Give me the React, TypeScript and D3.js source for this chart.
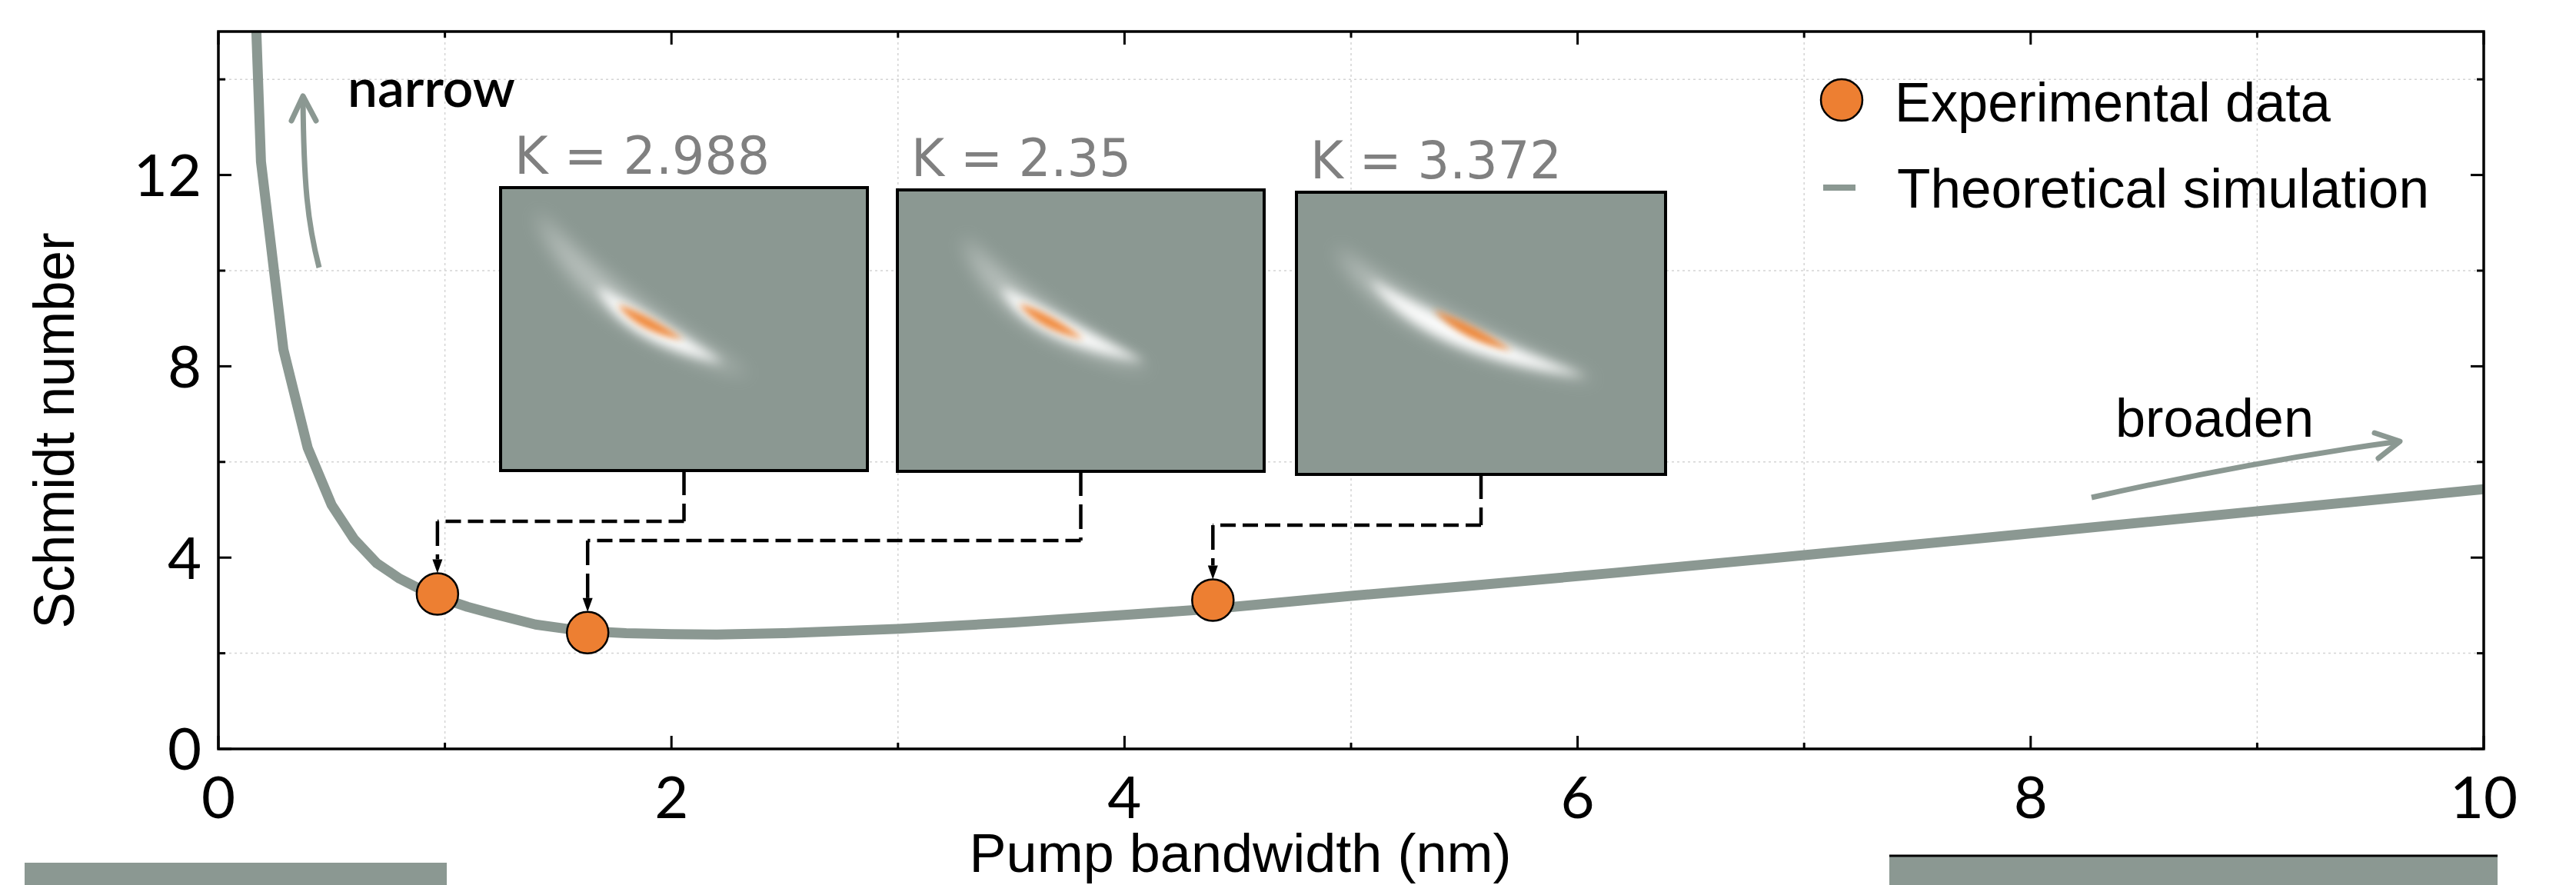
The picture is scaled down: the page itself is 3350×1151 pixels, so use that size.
import React from 'react';
import * as d3 from 'd3';

// ---------- data ----------
const xMajorTicks = [0, 2, 4, 6, 8, 10];
const xMinorTicks = [1, 3, 5, 7, 9];
const yMajorTicks = [0, 4, 8, 12];
const yMinorTicks = [2, 6, 10, 14];

const simBandwidth = [0.1, 0.188, 0.287, 0.394, 0.5, 0.6, 0.7, 0.8, 0.9, 1.0, 1.1, 1.2, 1.4, 1.6, 1.8, 2.0, 2.2, 2.5, 3.0, 3.5, 4.0, 4.39, 5.0, 5.5, 6.16, 7.0, 7.86, 9.0, 10.0];
const simSchmidt = [24.0, 12.28, 8.35, 6.3, 5.1, 4.38, 3.88, 3.56, 3.32, 3.13, 2.97, 2.84, 2.6, 2.47, 2.42, 2.4, 2.39, 2.42, 2.51, 2.64, 2.8, 2.93, 3.2, 3.4, 3.68, 4.05, 4.44, 4.97, 5.43];

const expBandwidth = [0.967, 1.63, 4.39];
const expSchmidt = [3.24, 2.43, 3.11];
const kLabels = ['K = 2.988', 'K = 2.35', 'K = 3.372'];

const legendLabels = ['Experimental data', 'Theoretical simulation'];

// ---------- layout ----------
const W = 3350;
const H = 1151;
const M = { left: 284, right: 3230, top: 41, bottom: 974 };
const GRAY = '#8b9892';
const ORANGE = '#ed7f32';

const insetBoxes = [
  { x: 651, y: 244, w: 477, h: 368 },
  { x: 1167, y: 247, w: 477, h: 366 },
  { x: 1686, y: 250, w: 480, h: 367 },
];
const connectorLevels = [678, 703, 683];

// blob shapes inside each inset (local px): [start, control, end]
type P = [number, number];
const blobs: { faint: [P, P, P]; white: [P, P, P]; core: [P, P, P] }[] = [
  { faint: [[45, 30], [120, 160], [326, 245]], white: [[125, 128], [170, 180], [290, 228]], core: [[152, 152], [185, 176], [238, 198]] },
  { faint: [[85, 60], [140, 165], [330, 235]], white: [[135, 126], [172, 172], [322, 224]], core: [[158, 148], [190, 170], [242, 194]] },
  { faint: [[50, 70], [130, 175], [392, 246]], white: [[95, 113], [175, 190], [378, 240]], core: [[178, 153], [222, 182], [280, 206]] },
];

function lens(s: P, c: P, e: P, t: number) {
  const dx = e[0] - s[0];
  const dy = e[1] - s[1];
  const L = Math.hypot(dx, dy);
  const nx = -dy / L;
  const ny = dx / L;
  const c1: P = [c[0] + nx * 2 * t, c[1] + ny * 2 * t];
  const c2: P = [c[0] - nx * 2 * t, c[1] - ny * 2 * t];
  return `M${s[0]},${s[1]} Q${c1[0]},${c1[1]} ${e[0]},${e[1]} Q${c2[0]},${c2[1]} ${s[0]},${s[1]} Z`;
}

export default function App() {
  const x = d3.scaleLinear().domain([0, 10]).range([M.left, M.right]);
  const y = d3.scaleLinear().domain([0, 15]).range([M.bottom, M.top]);

  const simData = simBandwidth.map((b, i) => [b, simSchmidt[i]] as [number, number]);
  const line = d3
    .line<[number, number]>()
    .x((d) => x(d[0]))
    .y((d) => y(d[1]))
    .curve(d3.curveLinear);

  const R = 27;
  const tickFont = { fontFamily: 'Lato, "Open Sans", sans-serif', fontWeight: 400, fontSize: 76 } as const;
  const narrowFont = '"Liberation Sans Narrow", "Liberation Sans", Arial, sans-serif';

  return (
    <svg
      width={W}
      height={H}
      viewBox={`0 0 ${W} ${H}`}
      style={{ position: 'absolute', left: 0, top: 0, background: '#fff' }}
    >
      <defs>
        <clipPath id="plotClip">
          <rect x={M.left} y={M.top} width={M.right - M.left} height={M.bottom - M.top} />
        </clipPath>
        {insetBoxes.map((b, i) => (
          <clipPath id={`insetClip${i}`} key={i}>
            <rect x={0} y={0} width={b.w} height={b.h} />
          </clipPath>
        ))}
        <filter id="blurFaint" x="-50%" y="-50%" width="200%" height="200%">
          <feGaussianBlur stdDeviation={12} />
        </filter>
        <filter id="blurWhite" x="-50%" y="-50%" width="200%" height="200%">
          <feGaussianBlur stdDeviation={7} />
        </filter>
        <filter id="blurCore" x="-50%" y="-50%" width="200%" height="200%">
          <feGaussianBlur stdDeviation={4} />
        </filter>
      </defs>

      {/* grid */}
      {xMinorTicks.map((t) => (
        <line key={'gx' + t} x1={x(t)} x2={x(t)} y1={M.top} y2={M.bottom} stroke="#d4d4d4" strokeWidth={1.5} strokeDasharray="3 4" />
      ))}
      {yMinorTicks.map((t) => (
        <line key={'gy' + t} x1={M.left} x2={M.right} y1={y(t)} y2={y(t)} stroke="#d4d4d4" strokeWidth={1.5} strokeDasharray="3 4" />
      ))}

      {/* theoretical curve */}
      <g clipPath="url(#plotClip)">
        <path d={line(simData) || ''} fill="none" stroke={GRAY} strokeWidth={13} strokeLinejoin="round" />
      </g>

      {/* narrow / broaden arrows */}
      <g fill="none" stroke={GRAY} strokeWidth={7} strokeLinecap="round" strokeLinejoin="round">
        <path d="M415,348 C400,290 395,240 394,128" strokeLinecap="butt" />
        <path d="M379,157 L394,125 L411,157" />
        <path d="M2720,647 Q2930,600 3120,574" strokeLinecap="butt" />
        <path d="M3088,563 L3121,574 L3093,596" />
      </g>
      <text x={452} y={139} fontFamily='Lato, "DejaVu Sans", sans-serif' fontWeight={600} fontSize={70} textLength={218} lengthAdjust="spacingAndGlyphs">
        narrow
      </text>
      <text x={2751} y={568} fontFamily={narrowFont} fontSize={70} textLength={258} lengthAdjust="spacingAndGlyphs">
        broaden
      </text>

      {/* insets */}
      {insetBoxes.map((b, i) => (
        <g key={'in' + i}>
          <g transform={`translate(${b.x},${b.y})`}>
            <g clipPath={`url(#insetClip${i})`}>
              <rect x={0} y={0} width={b.w} height={b.h} fill={GRAY} />
              <path d={lens(blobs[i].faint[0], blobs[i].faint[1], blobs[i].faint[2], 18)} fill="#ffffff" opacity={0.4} filter="url(#blurFaint)" />
              <path d={lens(blobs[i].white[0], blobs[i].white[1], blobs[i].white[2], 13)} fill="#ffffff" opacity={0.95} filter="url(#blurWhite)" />
              <path d={lens(blobs[i].core[0], blobs[i].core[1], blobs[i].core[2], 7)} fill="#f07f2c" opacity={0.9} filter="url(#blurCore)" />
            </g>
            <rect x={0} y={0} width={b.w} height={b.h} fill="none" stroke="#000" strokeWidth={4} />
          </g>
          <text x={b.x + 18} y={b.y - 18} fill="#808080" fontFamily='"DejaVu Sans", sans-serif' fontSize={68} textLength={[332, 286, 327][i]} lengthAdjust="spacingAndGlyphs">
            {kLabels[i]}
          </text>
        </g>
      ))}

      {/* connectors */}
      {insetBoxes.map((b, i) => {
        const cx = b.x + b.w / 2;
        const lvl = connectorLevels[i];
        const mx = x(expBandwidth[i]);
        const tipY = y(expSchmidt[i]) - R;
        const headLen = 18;
        return (
          <g key={'cn' + i} stroke="#000" strokeWidth={4.5} fill="none">
            <line x1={cx} x2={cx} y1={b.y + b.h} y2={lvl} strokeDasharray="32 11" />
            <line x1={cx} x2={mx} y1={lvl} y2={lvl} strokeDasharray="20 9" />
            <line x1={mx} x2={mx} y1={lvl} y2={tipY - headLen} strokeDasharray="32 11" />
            <path d={`M${mx - 6.5},${tipY - headLen} L${mx + 6.5},${tipY - headLen} L${mx},${tipY} Z`} fill="#000" stroke="none" />
          </g>
        );
      })}

      {/* experimental points */}
      {expBandwidth.map((b, i) => (
        <circle key={'pt' + i} cx={x(b)} cy={y(expSchmidt[i])} r={R} fill={ORANGE} stroke="#000" strokeWidth={2.5} />
      ))}

      {/* frame */}
      <rect x={M.left} y={M.top} width={M.right - M.left} height={M.bottom - M.top} fill="none" stroke="#000" strokeWidth={3.5} />

      {/* ticks */}
      {xMajorTicks.concat(xMinorTicks).map((t) => {
        const len = xMajorTicks.includes(t) ? 17 : 8;
        return (
          <g key={'tx' + t} stroke="#000" strokeWidth={3}>
            <line x1={x(t)} x2={x(t)} y1={M.bottom} y2={M.bottom - len} />
            <line x1={x(t)} x2={x(t)} y1={M.top} y2={M.top + len} />
          </g>
        );
      })}
      {yMajorTicks.concat(yMinorTicks).map((t) => {
        const len = yMajorTicks.includes(t) ? 17 : 9;
        return (
          <g key={'ty' + t} stroke="#000" strokeWidth={3}>
            <line x1={M.left} x2={M.left + len} y1={y(t)} y2={y(t)} />
            <line x1={M.right} x2={M.right - len} y1={y(t)} y2={y(t)} />
          </g>
        );
      })}

      {/* tick labels */}
      {xMajorTicks.map((t) => (
        <text key={'lx' + t} x={x(t)} y={1064} textAnchor="middle" {...tickFont}>
          {t}
        </text>
      ))}
      {yMajorTicks.map((t) => (
        <text key={'ly' + t} x={M.left - 22} y={y(t)} dy="0.36em" textAnchor="end" {...tickFont}>
          {t}
        </text>
      ))}

      {/* axis titles */}
      <text
        transform={`translate(96,${560}) rotate(-90)`}
        textAnchor="middle"
        fontFamily={narrowFont}
        fontSize={74}
        textLength={515}
        lengthAdjust="spacingAndGlyphs"
      >
        Schmidt number
      </text>
      <text x={1613} y={1134} textAnchor="middle" fontFamily={narrowFont} fontSize={70} textLength={705} lengthAdjust="spacingAndGlyphs">
        Pump bandwidth (nm)
      </text>

      {/* legend */}
      <circle cx={2395} cy={130} r={R} fill={ORANGE} stroke="#000" strokeWidth={2.5} />
      <text x={2464} y={158} fontFamily={narrowFont} fontSize={72} textLength={567} lengthAdjust="spacingAndGlyphs">
        {legendLabels[0]}
      </text>
      <line x1={2371} x2={2413} y1={244} y2={244} stroke={GRAY} strokeWidth={8} />
      <text x={2467} y={270} fontFamily={narrowFont} fontSize={72} textLength={692} lengthAdjust="spacingAndGlyphs">
        {legendLabels[1]}
      </text>

      {/* neighbouring panels (cut off) */}
      <rect x={32} y={1122} width={549} height={40} fill={GRAY} />
      <rect x={2457} y={1112} width={791} height={50} fill={GRAY} />
      <line x1={2457} x2={3248} y1={1113} y2={1113} stroke="#000" strokeWidth={3} />
    </svg>
  );
}
